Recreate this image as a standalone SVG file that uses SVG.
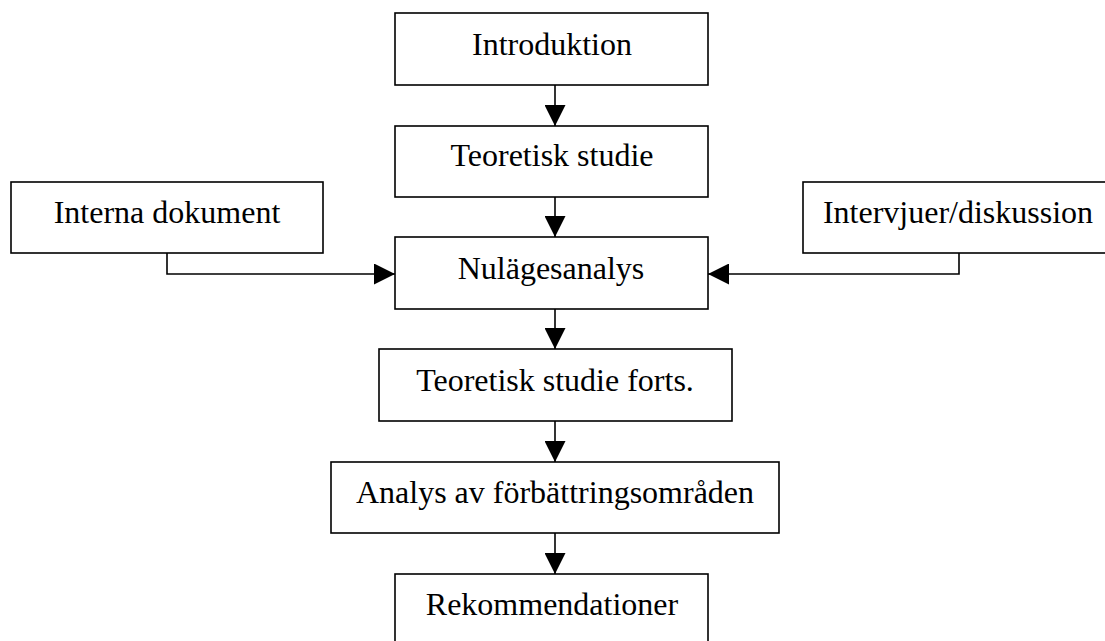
<svg xmlns="http://www.w3.org/2000/svg" width="1105" height="641" viewBox="0 0 1105 641">
<style>
.box{fill:#fff;stroke:#000;stroke-width:1.6}
.lbl{font-family:"Liberation Serif","Times New Roman",serif;font-size:32px;fill:#000;text-anchor:middle}
.con{fill:none;stroke:#000;stroke-width:1.6}
</style>
<defs>
<marker id="ah" markerWidth="21" markerHeight="21" refX="21" refY="10.5" orient="auto" markerUnits="userSpaceOnUse">
<path d="M0,0 L21,10.5 L0,21 Z" fill="#000"/>
</marker>
</defs>
<rect width="1105" height="641" fill="#fff"/>
<g id="connectors">
<path class="con" d="M555,85 V126" marker-end="url(#ah)"/>
<path class="con" d="M555,197 V237" marker-end="url(#ah)"/>
<path class="con" d="M167,253 V274 H395" marker-end="url(#ah)"/>
<path class="con" d="M959,253 V274 H708" marker-end="url(#ah)"/>
<path class="con" d="M555,309 V349" marker-end="url(#ah)"/>
<path class="con" d="M555,421 V462" marker-end="url(#ah)"/>
<path class="con" d="M555,533 V574" marker-end="url(#ah)"/>
</g>
<g id="introduktion"><rect class="box" x="395" y="13" width="313" height="72"/><text class="lbl" x="552" y="55">Introduktion</text></g>
<g id="teoretisk-studie"><rect class="box" x="395" y="126" width="313" height="71"/><text class="lbl" x="552" y="166">Teoretisk studie</text></g>
<g id="interna-dokument"><rect class="box" x="11" y="182" width="312" height="71"/><text class="lbl" x="167" y="223">Interna dokument</text></g>
<g id="intervjuer"><rect class="box" x="803" y="182" width="320" height="71"/><text class="lbl" x="958" y="223">Intervjuer/diskussion</text></g>
<g id="nulagesanalys"><rect class="box" x="395" y="237" width="313" height="72"/><text class="lbl" x="551" y="279">Nulägesanalys</text></g>
<g id="teoretisk-studie-forts"><rect class="box" x="379" y="349" width="353" height="72"/><text class="lbl" x="555" y="391">Teoretisk studie forts.</text></g>
<g id="analys"><rect class="box" x="331" y="462" width="448" height="71"/><text class="lbl" x="555" y="503">Analys av förbättringsområden</text></g>
<g id="rekommendationer"><rect class="box" x="395" y="574" width="313" height="80"/><text class="lbl" x="552" y="615">Rekommendationer</text></g>
</svg>
